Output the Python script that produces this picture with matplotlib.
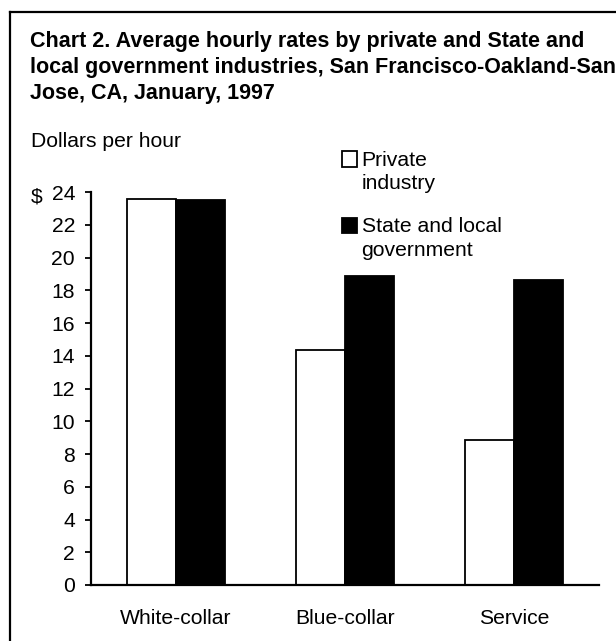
import matplotlib.pyplot as plt
from matplotlib.lines import Line2D
from matplotlib.patches import Rectangle
from matplotlib.legend_handler import HandlerPatch
import numpy as np

plt.rcParams['font.family'] = ['Liberation Sans', 'DejaVu Sans']

# data
categories = ['White-collar', 'Blue-collar', 'Service']
private_industry = [23.55, 14.35, 8.85]
state_local_gov = [23.5, 18.85, 18.65]
yticks = np.arange(0, 25, 2)

W, H = 616, 641
fig = plt.figure(figsize=(W / 100, H / 100), dpi=100)
fs = 15.2

# plot area in pixel terms
left, right, top, bottom = 91, 599, 192, 585
ax = fig.add_axes([left / W, 1 - bottom / H, (right - left) / W, (bottom - top) / H])

x = np.arange(len(categories))
width = 0.29
b1 = ax.bar(x - width / 2, private_industry, width, color='white', edgecolor='black',
            linewidth=1.3, label='Private\nindustry')
b2 = ax.bar(x + width / 2, state_local_gov, width, color='black', edgecolor='black',
            linewidth=1.3, label='State and local\ngovernment')

ax.set_xlim(-0.5, 2.5)
ax.set_ylim(0, 24)
ax.set_yticks(yticks)
ax.set_xticks(x)
ax.set_xticklabels(categories, fontsize=fs)
ax.tick_params(axis='y', labelsize=fs, length=4.5, width=1.3, pad=7)
ax.tick_params(axis='x', length=0, pad=17)
for s in ['top', 'right']:
    ax.spines[s].set_visible(False)
for s in ['left', 'bottom']:
    ax.spines[s].set_linewidth(1.6)


# legend squares sit next to the first line of each label
def top_box(legend, orig_handle, xdescent, ydescent, width, height, fontsize):
    return Rectangle((-xdescent, -ydescent + 0.62 * fontsize), width, height)


leg = fig.legend(handles=[b1.patches[0], b2.patches[0]],
                 labels=['Private\nindustry', 'State and local\ngovernment'],
                 handler_map={Rectangle: HandlerPatch(patch_func=top_box)},
                 loc='upper left', bbox_to_anchor=(331 / W, 1 - 140 / H), frameon=False,
                 fontsize=fs, handlelength=0.75, handleheight=0.75,
                 handletextpad=0.2, labelspacing=1.15, borderpad=0)
for t in leg.get_texts():
    t.set_linespacing(1.3)

# title and labels
fig.text(30 / W, 1 - 31 / H,
         'Chart 2. Average hourly rates by private and State and\n'
         'local government industries, San Francisco-Oakland-San\n'
         'Jose, CA, January, 1997',
         fontsize=15.5, fontweight='bold', va='top', ha='left', linespacing=1.3)
fig.text(31 / W, 1 - 147 / H, 'Dollars per hour', fontsize=fs, va='baseline', ha='left')
fig.text(31 / W, 1 - 202 / H, '$', fontsize=fs, va='baseline', ha='left')

# border lines (left and top)
fig.add_artist(Line2D([10 / W, 10 / W], [0, 1 - 12 / H], color='black', lw=1.6,
                      transform=fig.transFigure))
fig.add_artist(Line2D([10 / W, 1], [1 - 12 / H, 1 - 12 / H], color='black', lw=1.6,
                      transform=fig.transFigure))

fig.savefig('out.png', dpi=100)
